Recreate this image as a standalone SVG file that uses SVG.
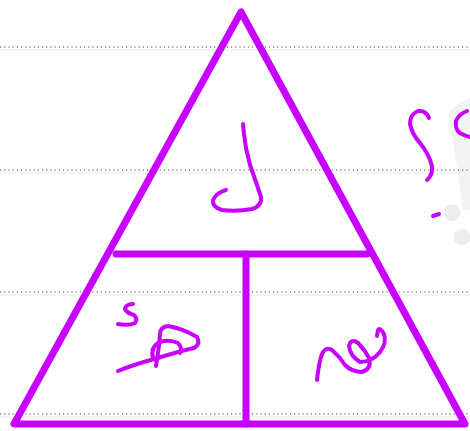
<svg xmlns="http://www.w3.org/2000/svg" width="470" height="431" viewBox="0 0 470 431">
<style>
.dot{stroke:#444;stroke-width:1.2;stroke-dasharray:1.2 3;fill:none}
.faint{stroke:#eef0f3;stroke-width:1.5;fill:none}
.tri{stroke:#C800FF;stroke-width:7;fill:none;stroke-linecap:round;stroke-linejoin:round}
.hw{stroke:#C800FF;stroke-width:4;fill:none;stroke-linecap:round;stroke-linejoin:round}
</style>
<rect width="470" height="431" fill="#ffffff"/>
<g id="background">
<path d="M449,112 Q462,100 470,98 L470,210 L463,210 Z" fill="#f3f3f3"/>
<circle cx="452" cy="213" r="8.5" fill="#eeeeee"/>
<circle cx="462" cy="237" r="8.5" fill="#eeeeee"/>
</g>
<g id="ruled-lines">
<line class="dot" x1="0" y1="47" x2="470" y2="47"/>
<line class="faint" x1="0" y1="50" x2="470" y2="50"/>
<line class="dot" x1="0" y1="170" x2="470" y2="170"/>
<line class="faint" x1="0" y1="173" x2="470" y2="173"/>
<line class="dot" x1="0" y1="292" x2="470" y2="292"/>
<line class="faint" x1="0" y1="295" x2="470" y2="295"/>
<line class="dot" x1="0" y1="414" x2="470" y2="414"/>
<line class="faint" x1="0" y1="417" x2="470" y2="417"/>
</g>
<g id="triangle">
<path class="tri" d="M241,12 L14,424 L465,424 Z"/>
</g>
<g id="dividers">
<line class="tri" x1="116" y1="254" x2="367" y2="254"/>
<line class="tri" x1="246" y1="254" x2="246" y2="424"/>
</g>
<g id="top-letter">
<path class="hw" d="M243,124 L244,134 L246,148 L250,165 L256,182 L261,197 Q262,206 252,209 Q236,212 222,210 Q212,207 213,200 Q216,193 226,190"/>
</g>
<g id="bottom-left-letter">
<path class="hw" d="M133,304 Q126,304 125,309 Q127,313 134,315 Q138,319 135,323 Q129,326 118,324"/>
<path class="hw" d="M118,371 Q135,364 158,358 Q180,351 194,348 Q201,344 197,337 Q184,329 168,326 Q160,327 160,334 L159,346 L156,366"/>
<path class="hw" d="M153,358 Q150,347 160,342 Q170,339 178,343 Q183,349 180,353"/>
</g>
<g id="bottom-right-letter">
<path class="hw" d="M317,380 Q319,362 322,354 Q326,346 332,350 Q340,357 345,365 Q352,372 362,372 Q372,369 369,358 Q365,350 358,343 Q351,338 349,346 Q350,356 360,362 Q372,362 380,352 Q387,343 384,334 Q380,327 378,330 L377,336"/>
</g>
<g id="question-mark">
<path class="hw" d="M429,118 Q426,110 418,111 Q410,114 410,124 Q412,134 420,143 Q429,154 432,166 Q433,175 427,180"/>
<path class="hw" d="M433,216 L439,214"/>
</g>
<g id="edge-letter">
<path class="hw" d="M467,111 Q459,114 456,121 Q455,130 460,133 Q465,136 470,137"/>
</g>
</svg>
